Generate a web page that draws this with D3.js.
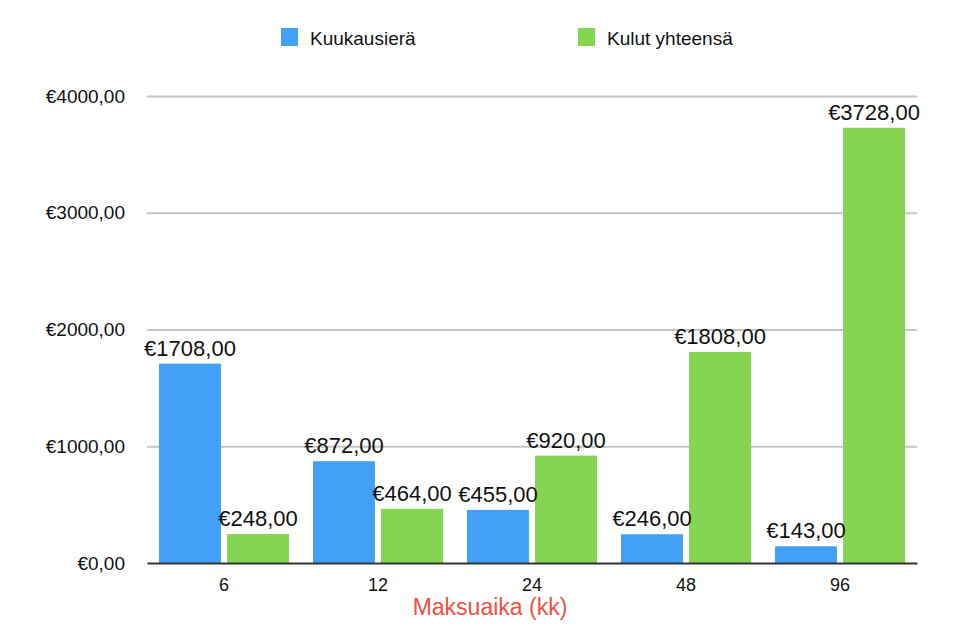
<!DOCTYPE html>
<html>
<head>
<meta charset="utf-8">
<script src="https://cdn.jsdelivr.net/npm/d3@7"></script>
<style>
  body { margin: 0; background: #fff; }
  text { font-family: "Liberation Sans", Arial, Helvetica, sans-serif; }
</style>
</head>
<body>
<div id="chart"></div>
<script>
// Chart data
const periods = ["6", "12", "24", "48", "96"];
const seriesNames = ["Kuukausierä", "Kulut yhteensä"];
const monthly = [1708, 872, 455, 246, 143];
const totalCost = [248, 464, 920, 1808, 3728];
const yTicks = [0, 1000, 2000, 3000, 4000];
const seriesColors = ["#42a0f7", "#83d552"];

const width = 970, height = 633;
const margin = { top: 96, right: 53, bottom: 70, left: 147 };

const fmt = (v) => "€" + v.toFixed(2).replace(".", ",");

const svg = d3.select("#chart").append("svg")
  .attr("width", width)
  .attr("height", height);

const x0 = d3.scaleBand()
  .domain(periods)
  .range([margin.left, width - margin.right])
  .paddingInner(0.156)
  .paddingOuter(0.078);

const x1 = d3.scaleBand()
  .domain(seriesNames)
  .range([0, x0.bandwidth()])
  .paddingInner(0.09);

const y = d3.scaleLinear()
  .domain([0, 4000])
  .range([height - margin.bottom, margin.top]);

// Gridlines and y labels
const yAxis = svg.append("g")
  .attr("transform", `translate(${margin.left},0)`)
  .call(d3.axisLeft(y).tickValues(yTicks).tickSize(-(width - margin.left - margin.right)).tickFormat(fmt));
yAxis.select(".domain").remove();
yAxis.selectAll(".tick line")
  .attr("stroke", (d) => d === 0 ? "none" : "#c4c4c4")
  .attr("stroke-width", 2);
yAxis.selectAll(".tick text")
  .attr("x", -22)
  .attr("font-size", 19)
  .attr("fill", "#111");

// Bars
const rows = periods.map((p, i) => ({ period: p, values: [monthly[i], totalCost[i]] }));

const group = svg.append("g")
  .selectAll("g")
  .data(rows)
  .join("g")
  .attr("transform", (d) => `translate(${x0(d.period)},0)`);

group.selectAll("rect")
  .data((d) => d.values.map((v, k) => ({ key: seriesNames[k], value: v, k })))
  .join("rect")
  .attr("x", (d) => x1(d.key))
  .attr("y", (d) => y(d.value))
  .attr("width", x1.bandwidth())
  .attr("height", (d) => y(0) - y(d.value))
  .attr("fill", (d) => seriesColors[d.k]);

group.selectAll("text")
  .data((d) => d.values.map((v, k) => ({ key: seriesNames[k], value: v })))
  .join("text")
  .attr("x", (d) => x1(d.key) + x1.bandwidth() / 2)
  .attr("y", (d) => y(d.value) - 8)
  .attr("text-anchor", "middle")
  .attr("font-size", 22)
  .attr("fill", "#111")
  .text((d) => fmt(d.value));

// X axis baseline and ticks
const xAxis = svg.append("g")
  .attr("transform", `translate(0,${y(0)})`)
  .call(d3.axisBottom(x0).tickSize(0).tickPadding(0));
xAxis.select(".domain")
  .attr("stroke", "#333")
  .attr("stroke-width", 2);
xAxis.selectAll(".tick text")
  .attr("y", 28)
  .attr("dy", 0)
  .attr("font-size", 18)
  .attr("fill", "#111");

// Axis title
svg.append("text")
  .attr("x", 490)
  .attr("y", 615)
  .attr("text-anchor", "middle")
  .attr("font-size", 23)
  .attr("fill", "#ee5144")
  .text("Maksuaika (kk)");

// Legend
const legendX = [281, 578];
const legend = svg.append("g")
  .selectAll("g")
  .data(seriesNames)
  .join("g")
  .attr("transform", (d, i) => `translate(${legendX[i]},28)`);

legend.append("rect")
  .attr("width", 17)
  .attr("height", 18)
  .attr("fill", (d, i) => seriesColors[i]);

legend.append("text")
  .attr("x", 29)
  .attr("y", 17)
  .attr("font-size", 19)
  .attr("fill", "#111")
  .text((d) => d);
</script>
</body>
</html>
